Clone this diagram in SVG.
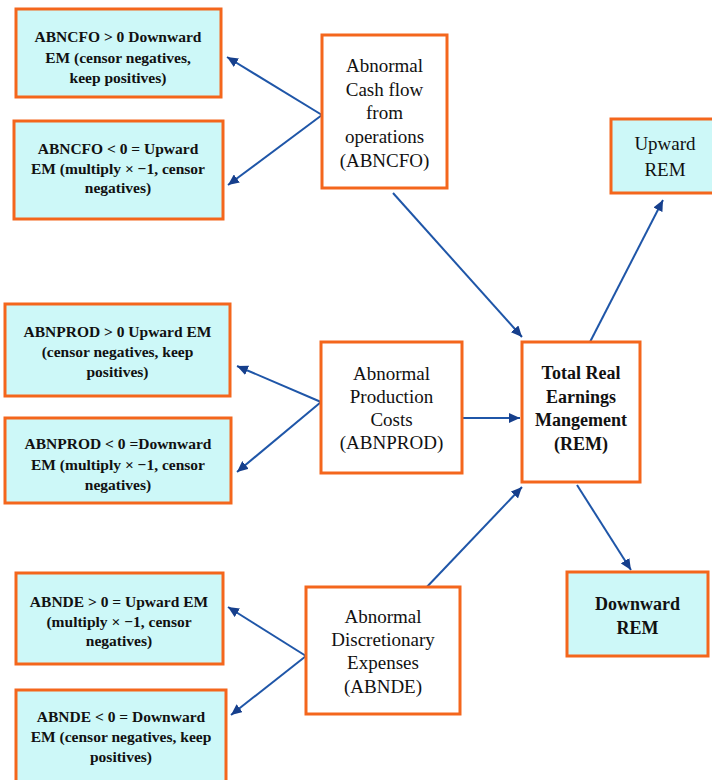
<svg xmlns="http://www.w3.org/2000/svg" width="712" height="780" viewBox="0 0 712 780">
<style>
.box{fill:#cdf8f8;stroke:#f4661c;stroke-width:3}
.node{fill:#ffffff;stroke:#f4661c;stroke-width:3}
.t{font-family:"Liberation Serif","Times New Roman",serif;fill:#111;text-anchor:middle}
.s{font-size:15.5px;font-weight:bold}
.m{font-size:19px}
.b{font-size:18px;font-weight:bold}
.c{stroke:#1f56a8;stroke-width:2;fill:none;marker-end:url(#ah)}
</style>
<defs>
<marker id="ah" markerUnits="userSpaceOnUse" markerWidth="12" markerHeight="10" refX="11" refY="5" orient="auto">
<path d="M0,0 L11,5 L0,10 Z" fill="#163f8c"/>
</marker>
</defs>
<rect width="712" height="780" fill="#ffffff"/>
<g id="connectors">
<line class="c" x1="322" y1="115" x2="227" y2="57"/>
<line class="c" x1="322" y1="115" x2="228" y2="185"/>
<line class="c" x1="393" y1="193" x2="522" y2="337"/>
<line class="c" x1="321" y1="402" x2="237" y2="366"/>
<line class="c" x1="321" y1="402" x2="237" y2="472"/>
<line class="c" x1="462" y1="418" x2="520" y2="418"/>
<line class="c" x1="306" y1="656" x2="228" y2="607"/>
<line class="c" x1="306" y1="656" x2="231" y2="715"/>
<line class="c" x1="424" y1="590" x2="522" y2="487"/>
<line class="c" x1="590" y1="342" x2="663" y2="200"/>
<line class="c" x1="577" y1="485" x2="631" y2="570"/>
</g>
<g id="n-abncfo-pos">
<rect class="box" x="16" y="9" width="205" height="88"/>
<text class="t s" x="118" y="42">ABNCFO &gt; 0 Downward</text>
<text class="t s" x="118" y="63">EM (censor negatives,</text>
<text class="t s" x="118" y="83">keep positives)</text>
</g>
<g id="n-abncfo-neg">
<rect class="box" x="14" y="121" width="209" height="98"/>
<text class="t s" x="118" y="154">ABNCFO &lt; 0 = Upward</text>
<text class="t s" x="118" y="174">EM (multiply × −1, censor</text>
<text class="t s" x="118" y="193">negatives)</text>
</g>
<g id="n-abncfo">
<rect class="node" x="322" y="35" width="125" height="153"/>
<text class="t m" x="384.5" y="72">Abnormal</text>
<text class="t m" x="384.5" y="96">Cash flow</text>
<text class="t m" x="384.5" y="119">from</text>
<text class="t m" x="384.5" y="143">operations</text>
<text class="t m" x="384.5" y="167">(ABNCFO)</text>
</g>
<g id="n-abnprod-pos">
<rect class="box" x="5" y="304" width="225" height="92"/>
<text class="t s" x="117.5" y="337">ABNPROD &gt; 0 Upward EM</text>
<text class="t s" x="117.5" y="357">(censor negatives, keep</text>
<text class="t s" x="117.5" y="377">positives)</text>
</g>
<g id="n-abnprod-neg">
<rect class="box" x="5" y="418" width="226" height="85"/>
<text class="t s" x="118" y="449">ABNPROD &lt; 0 =Downward</text>
<text class="t s" x="118" y="470">EM (multiply × −1, censor</text>
<text class="t s" x="118" y="490">negatives)</text>
</g>
<g id="n-abnprod">
<rect class="node" x="321" y="342" width="141" height="131"/>
<text class="t m" x="391.5" y="380">Abnormal</text>
<text class="t m" x="391.5" y="403">Production</text>
<text class="t m" x="391.5" y="426">Costs</text>
<text class="t m" x="391.5" y="449">(ABNPROD)</text>
</g>
<g id="n-abnde-pos">
<rect class="box" x="16" y="573" width="207" height="91"/>
<text class="t s" x="119" y="607">ABNDE &gt; 0 = Upward EM</text>
<text class="t s" x="119" y="627">(multiply × −1, censor</text>
<text class="t s" x="119" y="646">negatives)</text>
</g>
<g id="n-abnde-neg">
<rect class="box" x="16" y="690" width="210" height="92"/>
<text class="t s" x="121" y="722">ABNDE &lt; 0 = Downward</text>
<text class="t s" x="121" y="742">EM (censor negatives, keep</text>
<text class="t s" x="121" y="762">positives)</text>
</g>
<g id="n-abnde">
<rect class="node" x="306" y="587" width="154" height="127"/>
<text class="t m" x="383" y="623">Abnormal</text>
<text class="t m" x="383" y="646">Discretionary</text>
<text class="t m" x="383" y="669">Expenses</text>
<text class="t m" x="383" y="693">(ABNDE)</text>
</g>
<g id="n-rem">
<rect class="node" x="522" y="342" width="118" height="140"/>
<text class="t b" x="581" y="379">Total Real</text>
<text class="t b" x="581" y="403">Earnings</text>
<text class="t b" x="581" y="426">Mangement</text>
<text class="t b" x="581" y="450">(REM)</text>
</g>
<g id="n-upward">
<rect class="box" x="611" y="119" width="104" height="74"/>
<text class="t m" x="665" y="150">Upward</text>
<text class="t m" x="665" y="176">REM</text>
</g>
<g id="n-downward">
<rect class="box" x="567" y="572" width="141" height="84"/>
<text class="t b" x="637.5" y="610">Downward</text>
<text class="t b" x="637.5" y="634">REM</text>
</g>
</svg>
